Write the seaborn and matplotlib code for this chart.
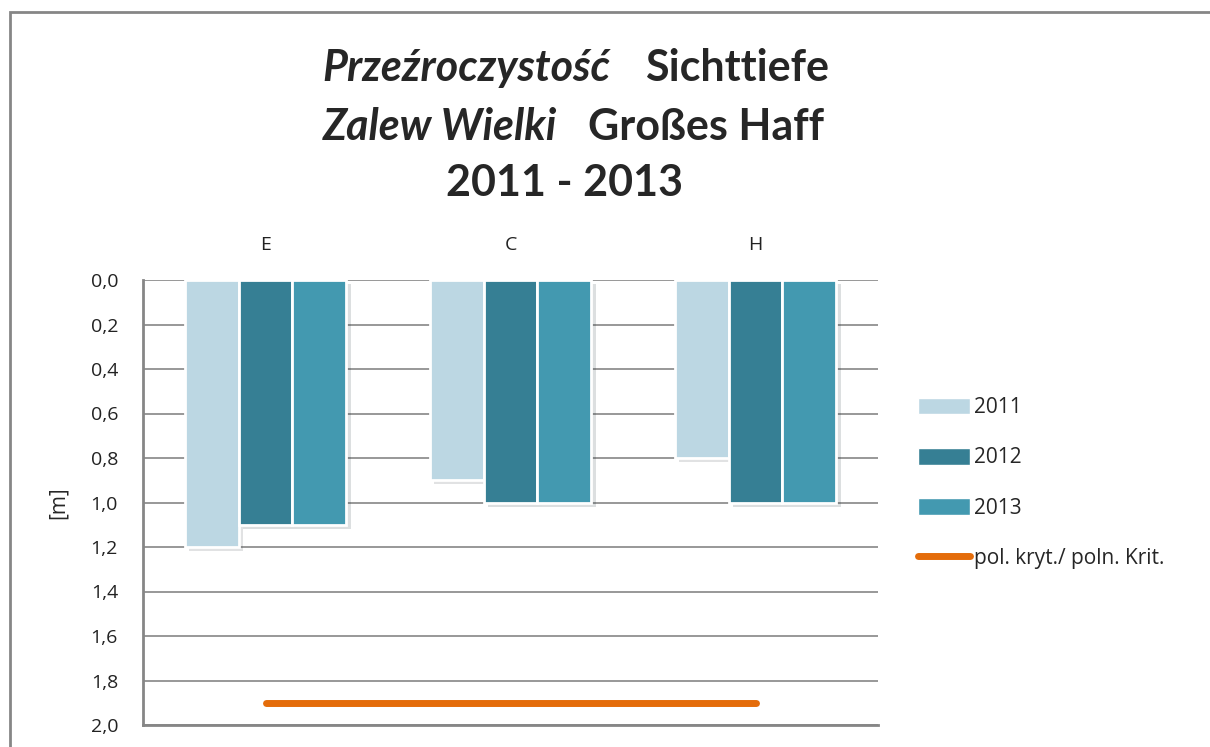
import pandas as pd
import matplotlib.pyplot as plt
import matplotlib.patheffects as pe
from matplotlib.patches import Rectangle, Patch
from matplotlib.lines import Line2D
from matplotlib.ticker import FuncFormatter
import seaborn as sns

# data
sites = ['E', 'C', 'H']
years = ['2011', '2012', '2013']
v2011 = [1.2, 0.9, 0.8]
v2012 = [1.1, 1.0, 1.0]
v2013 = [1.1, 1.0, 1.0]
crit = [1.9, 1.9, 1.9]
crit_label = 'pol. kryt./ poln. Krit.'
colors = ['#BCD7E3', '#367F94', '#4399B0']
orange = '#E46C0A'

df = pd.DataFrame({'Site': sites * 3,
                   'Year': [y for y in years for _ in sites],
                   'Depth': v2011 + v2012 + v2013})

sns.set_style('white')
plt.rcParams['font.family'] = ['Open Sans', 'DejaVu Sans']

fig = plt.figure(figsize=(12.1, 7.47), dpi=100)
ax = fig.add_axes([143 / 1210, 1 - 725 / 747, (878 - 143) / 1210, (725 - 280) / 747])

sns.barplot(data=df, x='Site', y='Depth', hue='Year', order=sites, hue_order=years,
            palette=colors, saturation=1, width=0.66, edgecolor='white', linewidth=2,
            legend=False, ax=ax, zorder=3)
for p in ax.patches:
    p.set_path_effects([pe.SimplePatchShadow(offset=(3, -3), alpha=0.15), pe.Normal()])

ax.plot([0, 2], [crit[0], crit[2]], color=orange, lw=5, solid_capstyle='round', zorder=4)

ax.set_ylim(2.0, 0.0)
ax.set_xlim(-0.5, 2.5)
ax.set_yticks([i / 5 for i in range(11)])
ax.yaxis.set_major_formatter(FuncFormatter(lambda v, _: f'{v:.1f}'.replace('.', ',')))
ax.yaxis.grid(True, color='#868686', lw=1.2, zorder=0)
ax.xaxis.tick_top()
ax.tick_params(axis='x', length=0, pad=19, labelsize=14, labelcolor='#222222')
ax.tick_params(axis='y', length=0, pad=18, labelsize=14, labelcolor='#222222')
ax.set_xlabel('')
ax.set_ylabel('[m]', fontsize=15, labelpad=16)
for s in ['right', 'top']:
    ax.spines[s].set_visible(False)
for s in ['left', 'bottom']:
    ax.spines[s].set_color('#868686')
    ax.spines[s].set_linewidth(2)

handles = [Patch(facecolor=c, edgecolor='white') for c in colors]
handles.append(Line2D([0], [0], color=orange, lw=5, solid_capstyle='round'))
fig.legend(handles, years + [crit_label], loc='center left',
           bbox_to_anchor=(918 / 1210, 1 - 483 / 747), frameon=False, borderpad=0,
           borderaxespad=0, fontsize=15, handlelength=2.5, handleheight=0.85,
           labelspacing=1.4, handletextpad=0.2)

# title
tkw = dict(fontsize=31, fontweight='bold', va='center', family=['Lato', 'DejaVu Sans'])
fig.text(610 / 1210, 1 - 68 / 747, 'Przeźroczystość', style='italic', ha='right', **tkw)
fig.text(645 / 1210, 1 - 68 / 747, 'Sichttiefe', ha='left', **tkw)
fig.text(557 / 1210, 1 - 127 / 747, 'Zalew Wielki', style='italic', ha='right', **tkw)
fig.text(588 / 1210, 1 - 127 / 747, 'Großes Haff', ha='left', **tkw)
fig.text(565 / 1210, 1 - 183 / 747, '2011 - 2013', ha='center', **tkw)

fig.patches.append(Rectangle((10 / 1210, -0.1), 1.2, 1 - 12 / 747 + 0.1,
                             transform=fig.transFigure, fill=False,
                             edgecolor='#868686', lw=2))

fig.savefig('out.png', dpi=100)
